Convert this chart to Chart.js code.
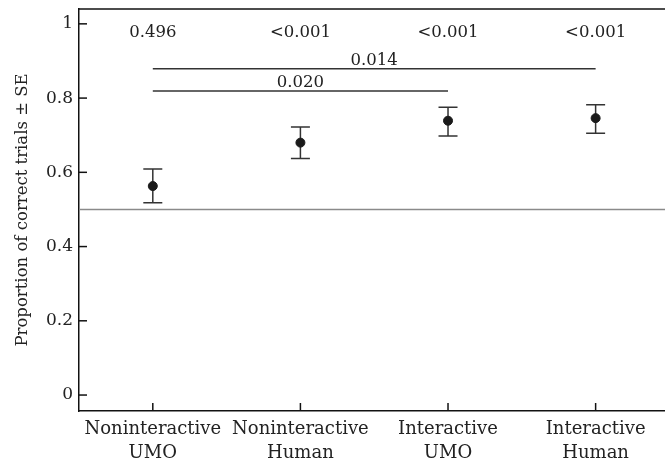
<!DOCTYPE html>
<html>
<head>
<meta charset="utf-8">
<script src="https://cdn.jsdelivr.net/npm/chart.js@4/dist/chart.umd.min.js"></script>
<style>
  html, body { margin: 0; padding: 0; background: #fff; overflow: hidden; }
  #wrap { width: 665px; height: 464px; }
</style>
</head>
<body>
<div id="wrap"><canvas id="chart" width="665" height="464"></canvas></div>
<script>
const categories = [["Noninteractive", "UMO"], ["Noninteractive", "Human"], ["Interactive", "UMO"], ["Interactive", "Human"]]
const means = [0.563, 0.680, 0.739, 0.746]
const seUpper = [0.609, 0.722, 0.775, 0.782]
const seLower = [0.518, 0.637, 0.698, 0.705]
const pValues = ["0.496", "<0.001", "<0.001", "<0.001"]
const comparisons = [
  { from: 0, to: 3, label: "0.014", level: 0.879 },
  { from: 0, to: 2, label: "0.020", level: 0.819 }
]
const chanceLevel = 0.5
const yTicks = [0, 0.2, 0.4, 0.6, 0.8, 1]

const FONT = "DejaVu Serif"
const INK = "#222"

// inward ticks, top frame, chance line, error bars and p-value notes
const decorations = {
  id: 'decorations',
  beforeDatasetsDraw(chart) {
    const {ctx, chartArea: area, scales: {x, y}} = chart
    ctx.save()
    ctx.strokeStyle = "#8a8a8a"
    ctx.lineWidth = 1.5
    const yc = y.getPixelForValue(chanceLevel)
    ctx.beginPath(); ctx.moveTo(area.left, yc); ctx.lineTo(area.right, yc); ctx.stroke()

    ctx.strokeStyle = "#111"
    ctx.lineWidth = 1.5
    ctx.beginPath(); ctx.moveTo(area.left - 1, area.top); ctx.lineTo(area.right, area.top); ctx.stroke()
    y.ticks.forEach(t => {
      const py = y.getPixelForValue(t.value)
      ctx.beginPath(); ctx.moveTo(area.left, py); ctx.lineTo(area.left + 8, py); ctx.stroke()
    })
    x.ticks.forEach(t => {
      const px = x.getPixelForValue(t.value)
      ctx.beginPath(); ctx.moveTo(px, area.bottom); ctx.lineTo(px, area.bottom - 8); ctx.stroke()
    })

    ctx.strokeStyle = "#333"
    ctx.lineWidth = 1.5
    means.forEach((m, i) => {
      const px = x.getPixelForValue(i)
      const top = y.getPixelForValue(seUpper[i])
      const bot = y.getPixelForValue(seLower[i])
      ctx.beginPath()
      ctx.moveTo(px, top); ctx.lineTo(px, bot)
      ctx.moveTo(px - 9.5, top); ctx.lineTo(px + 9.5, top)
      ctx.moveTo(px - 9.5, bot); ctx.lineTo(px + 9.5, bot)
      ctx.stroke()
    })

    ctx.fillStyle = INK
    ctx.font = "16.5px '" + FONT + "'"
    ctx.textAlign = "center"
    ctx.textBaseline = "alphabetic"
    pValues.forEach((p, i) => {
      ctx.fillText(p, x.getPixelForValue(i), y.getPixelForValue(0.965))
    })
    comparisons.forEach(c => {
      const x1 = x.getPixelForValue(c.from), x2 = x.getPixelForValue(c.to)
      const py = y.getPixelForValue(c.level)
      ctx.beginPath(); ctx.moveTo(x1, py); ctx.lineTo(x2, py); ctx.stroke()
      ctx.fillText(c.label, (x1 + x2) / 2, py - 4)
    })
    ctx.restore()
  }
}

new Chart(document.getElementById('chart'), {
  type: 'scatter',
  data: {
    datasets: [{
      data: means.map((m, i) => ({x: i, y: m})),
      backgroundColor: "#1a1a1a",
      borderColor: "#1a1a1a",
      pointRadius: 4.5,
      pointHoverRadius: 4.5
    }]
  },
  options: {
    responsive: false,
    animation: false,
    layout: { autoPadding: false, padding: { top: 9, right: 0, left: 0, bottom: 0 } },
    plugins: { legend: { display: false }, tooltip: { enabled: false } },
    scales: {
      x: {
        type: 'linear',
        min: -0.5,
        max: 3.47,
        grid: { display: false, drawTicks: false },
        border: { display: true, color: "#111", width: 1.5 },
        afterBuildTicks: (s) => { s.ticks = categories.map((c, i) => ({value: i})) },
        afterFit: (s) => {
          s.height = 53
          s.paddingLeft = 0; s.paddingRight = 0
        },
        ticks: {
          padding: 6,
          maxRotation: 0,
          autoSkip: false,
          color: INK,
          font: { family: FONT, size: 18, lineHeight: 1.33 },
          callback: (v) => categories[v]
        }
      },
      y: {
        min: -0.043,
        max: 1.04,
        grid: { display: false, drawTicks: false },
        border: { display: true, color: "#111", width: 1.5 },
        afterBuildTicks: (s) => { s.ticks = yTicks.map(v => ({value: v})) },
        afterFit: (s) => {
          s.width = 79
          s.paddingTop = 0; s.paddingBottom = 0
        },
        ticks: {
          padding: 6,
          color: INK,
          font: { family: FONT, size: 17 },
          callback: (v) => String(Math.round(v * 10) / 10)
        },
        title: {
          display: true,
          text: "Proportion of correct trials ± SE",
          color: INK,
          font: { family: FONT, size: 16.5 },
          padding: { top: 13, bottom: 0 }
        }
      }
    }
  },
  plugins: [decorations]
})
</script>
</body>
</html>
